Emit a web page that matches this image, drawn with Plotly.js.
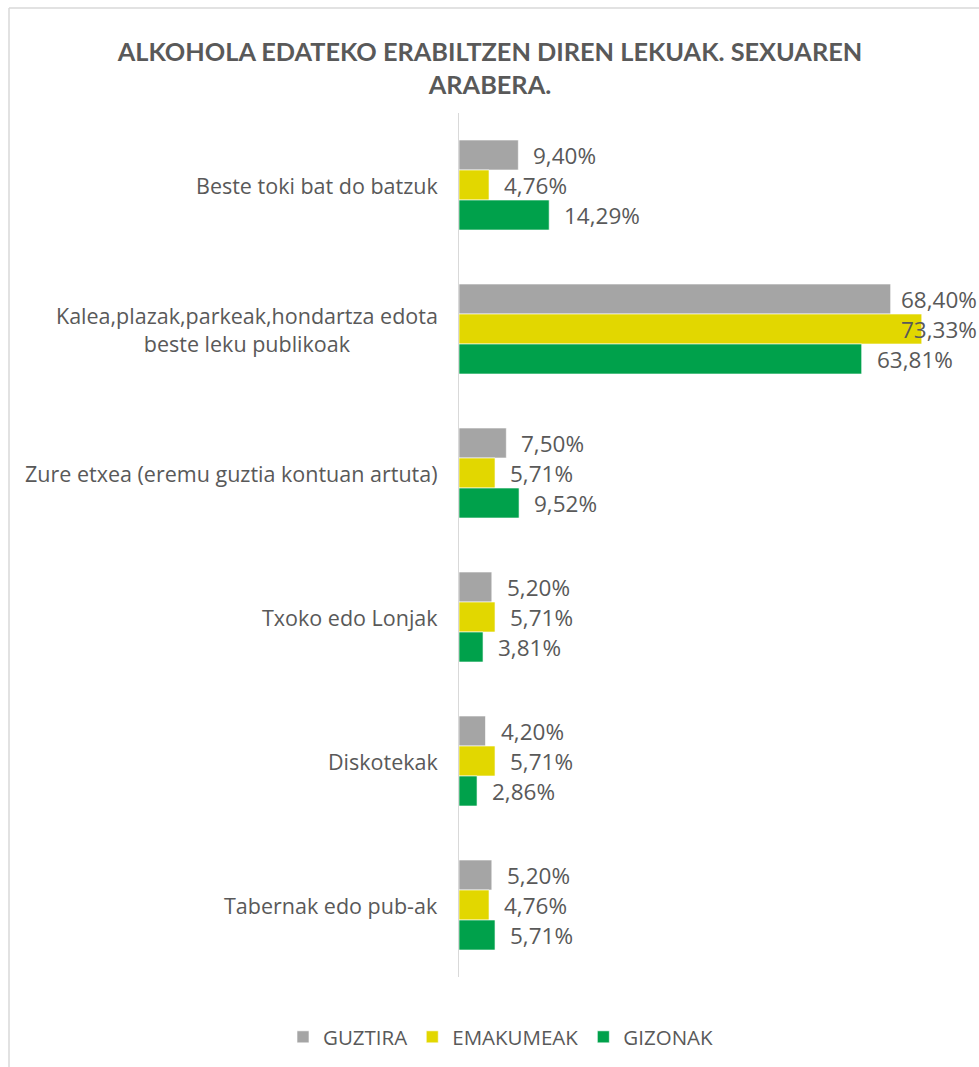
<!DOCTYPE html>
<html>
<head>
<meta charset="utf-8">
<script src="https://cdn.plot.ly/plotly-3.0.1.min.js"></script>
<style>html,body{margin:0;padding:0;background:#fff;}#chart{width:979px;height:1067px;}</style>
</head>
<body>
<div id="chart"></div>
<script>
// ---- data ----
const categories = [
  "Beste toki bat do batzuk",
  "Kalea,plazak,parkeak,hondartza edota<br>beste leku publikoak",
  "Zure etxea (eremu guztia kontuan artuta)",
  "Txoko edo Lonjak",
  "Diskotekak",
  "Tabernak edo pub-ak"
];
const seriesNames = ["GUZTIRA", "EMAKUMEAK", "GIZONAK"];
const guztira   = [9.40, 68.40, 7.50, 5.20, 4.20, 5.20];
const emakumeak = [4.76, 73.33, 5.71, 5.71, 5.71, 4.76];
const gizonak   = [14.29, 63.81, 9.52, 3.81, 2.86, 5.71];
const titleText = "ALKOHOLA EDATEKO ERABILTZEN DIREN LEKUAK. SEXUAREN<br>ARABERA.";

// ---- style ----
const colors = ["#A5A5A5", "#E2D700", "#00A14B"];
const textColor = "#595959";
const W = 979, H = 1067, ML = 459, MR = 0, MT = 113, MB = 90;
const PW = W - ML - MR, PH = H - MT - MB;
const XMAX = 82.4;
const bargap = 0.375;
const fmt = v => v.toFixed(2).replace(".", ",") + "%";

const allSeries = [guztira, emakumeak, gizonak];
const traces = allSeries.map((vals, i) => ({
  type: "bar",
  orientation: "h",
  name: seriesNames[i],
  x: vals,
  y: categories,
  marker: {color: colors[i], line: {color: "rgba(255,255,255,0.6)", width: 1}},
  hoverinfo: "x+y+name"
}));

// pixel geometry for value labels
const catPx = PH / categories.length;
const barPx = catPx * (1 - bargap) / allSeries.length;
const pxPerUnit = PW / XMAX;
const annotations = [];
allSeries.forEach((vals, si) => {
  const shift = (1 - si) * barPx;
  vals.forEach((v, ci) => {
    const label = fmt(v);
    const estW = label.length * 12.5;
    const overflow = v * pxPerUnit + 14 + estW > PW;
    annotations.push({
      xref: "x", yref: "y",
      x: overflow ? XMAX : v,
      y: categories[ci],
      xanchor: overflow ? "right" : "left",
      xshift: overflow ? 0 : 13,
      yshift: shift,
      text: label,
      showarrow: false,
      font: {family: "Open Sans, sans-serif", size: 22.5, color: textColor}
    });
  });
});
categories.forEach(c => {
  annotations.push({
    xref: "paper", yref: "y",
    x: 0, y: c,
    xanchor: "right", xshift: -19,
    align: "center",
    text: c,
    showarrow: false,
    font: {family: "Open Sans, sans-serif", size: 21.5, color: textColor}
  });
});

// frame (top & left edges of the chart area border)
const px2paperX = p => (p - ML) / PW;
const px2paperY = p => (H - MB - p) / PH;
const shapes = [
  {type: "line", xref: "paper", yref: "paper", x0: px2paperX(9), x1: px2paperX(W + 5), y0: px2paperY(8), y1: px2paperY(8), line: {color: "#D9D9D9", width: 1.5}},
  {type: "line", xref: "paper", yref: "paper", x0: px2paperX(9), x1: px2paperX(9), y0: px2paperY(8), y1: px2paperY(H + 5), line: {color: "#D9D9D9", width: 1.5}}
];

const layout = {
  width: W, height: H,
  margin: {l: ML, r: MR, t: MT, b: MB, pad: 0},
  paper_bgcolor: "#fff", plot_bgcolor: "#fff",
  barmode: "group", bargap: bargap, bargroupgap: 0,
  title: {
    text: titleText,
    font: {family: "Lato, sans-serif", size: 25.3, color: textColor, weight: "bold"},
    x: 490 / W, xref: "container", xanchor: "center",
    y: (H - 61) / H, yref: "container", yanchor: "middle"
  },
  xaxis: {range: [0, XMAX], visible: false, fixedrange: true},
  yaxis: {
    type: "category", autorange: "reversed",
    showticklabels: false, ticks: "",
    showgrid: false, zeroline: false,
    showline: true, linecolor: "#D9D9D9", linewidth: 1.5
  },
  showlegend: true,
  legend: {
    orientation: "h",
    x: px2paperX(501), xanchor: "center",
    y: px2paperY(1037), yanchor: "middle",
    font: {family: "Open Sans, sans-serif", size: 20.5, color: textColor},
    itemwidth: 30,
    traceorder: "normal"
  },
  annotations: annotations,
  shapes: shapes
};

Plotly.newPlot("chart", traces, layout, {displayModeBar: false, staticPlot: true});
</script>
</body>
</html>
